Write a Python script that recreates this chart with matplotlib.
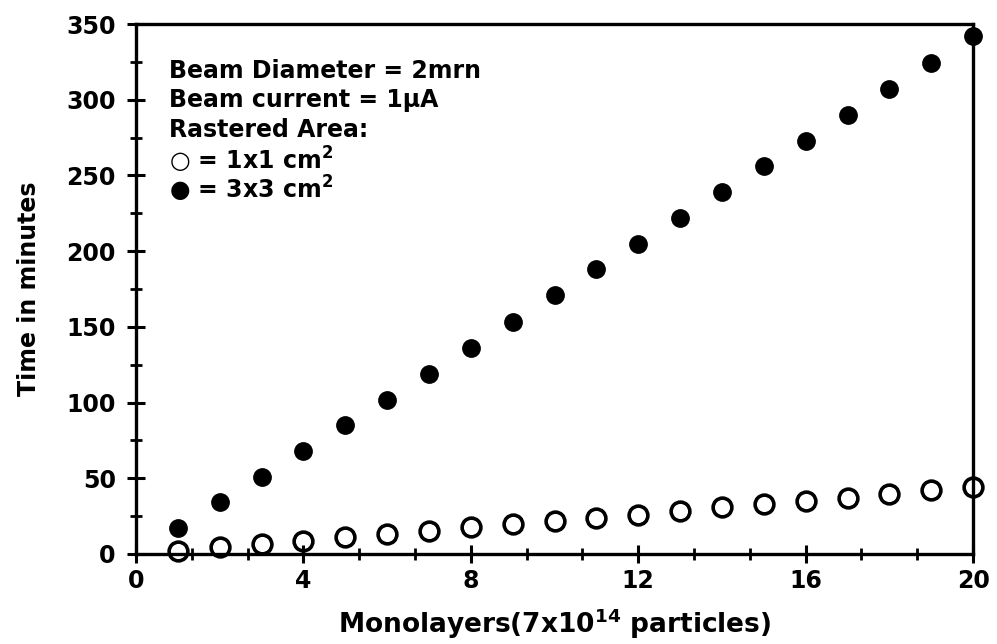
import matplotlib
matplotlib.use("Agg")
import matplotlib.pyplot as plt
from matplotlib.ticker import MultipleLocator

# Sputter time vs. dose for two rastered areas
monolayers = list(range(1, 21))
time_3x3 = [17, 34, 51, 68, 85, 102, 119, 136, 153, 171,
            188, 205, 222, 239, 256, 273, 290, 307, 324, 342]
time_1x1 = [2.2, 4.4, 6.6, 8.8, 11, 13, 15, 17.5, 20, 22,
            24, 26, 28.5, 31, 33, 35, 37, 39.5, 42, 44]

legend_lines = [
    "Beam Diameter = 2mrn",
    "Beam current = 1\u03bcA",
    "Rastered Area:",
    "\u25cb = 1x1 cm$^\\mathbf{2}$",
    "\u25cf = 3x3 cm$^\\mathbf{2}$",
]

plt.rcParams["font.family"] = ["DejaVu Sans"]
plt.rcParams["font.weight"] = "bold"

fig = plt.figure(figsize=(9.97, 6.44), dpi=100)
ax = fig.add_axes([0.1364, 0.1398, 0.8396, 0.8229])

ax.plot(monolayers, time_3x3, "o", color="black", markersize=12.5, clip_on=False)
ax.plot(monolayers, time_1x1, "o", markerfacecolor="none", markeredgecolor="black",
        markeredgewidth=2.6, markersize=13.5, clip_on=False)

ax.set_xlim(0, 20)
ax.set_ylim(0, 350)
ax.xaxis.set_major_locator(MultipleLocator(4))
ax.xaxis.set_minor_locator(MultipleLocator(4 / 3))
ax.yaxis.set_major_locator(MultipleLocator(50))
ax.yaxis.set_minor_locator(MultipleLocator(25))

for side in ax.spines.values():
    side.set_linewidth(2.4)
ax.tick_params(which="major", direction="inout", length=13, width=2.2,
               labelsize=17)
ax.tick_params(axis="y", which="major", pad=8)
ax.tick_params(axis="x", which="major", pad=4)
ax.tick_params(which="minor", direction="inout", length=8, width=2)
for lbl in ax.get_xticklabels() + ax.get_yticklabels():
    lbl.set_fontweight("bold")

ax.set_xlabel("Monolayers(7x10$^\\mathbf{14}$ particles)", fontsize=19,
              fontweight="bold", labelpad=10)
ax.set_ylabel("Time in minutes", fontsize=17, fontweight="bold", labelpad=18)

y0 = 0.912
for i, line in enumerate(legend_lines):
    ax.text(0.04, y0 - i * 0.056, line, transform=ax.transAxes, fontsize=17,
            fontweight="bold", va="center", ha="left")

fig.savefig("out.png", dpi=100)
